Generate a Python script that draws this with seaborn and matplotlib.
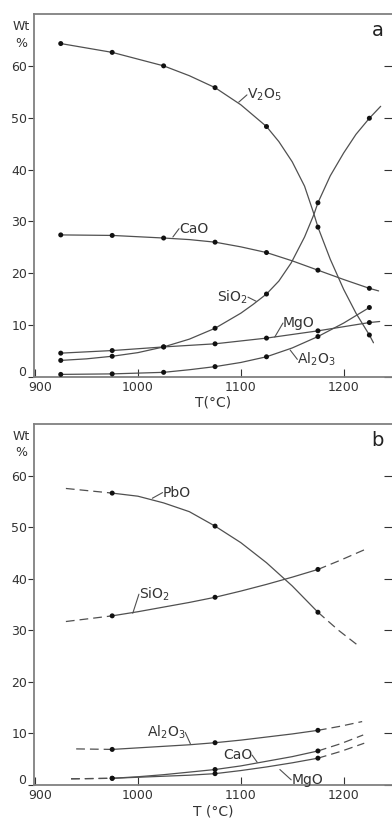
import matplotlib
matplotlib.use("Agg")
import matplotlib.pyplot as plt
import matplotlib.transforms as mtrans
import seaborn as sns

# Panel a - measured points
temps_a = [925, 975, 1025, 1075, 1125, 1175, 1225]
v2o5_a = [64.3, 62.6, 60.0, 55.8, 48.3, 28.9, 8.1]
cao_a = [27.4, 27.3, 26.8, 26.0, 24.0, 20.6, 17.1]
sio2_a = [3.2, 4.0, 5.8, 9.4, 16.0, 33.6, 49.9]
mgo_a = [4.6, 5.1, 5.8, 6.4, 7.5, 8.9, 10.5]
al2o3_a = [0.5, 0.6, 0.9, 2.0, 3.9, 7.8, 13.4]

# Panel a - curves
v2o5_curve_t = [925, 975, 1025, 1050, 1075, 1100, 1125, 1137, 1150, 1162, 1171, 1175,
                1187, 1200, 1212, 1225, 1229]
v2o5_curve = [64.3, 62.6, 60.0, 58.1, 55.8, 52.5, 48.3, 45.4, 41.5, 36.8, 31.5, 28.9,
              22.7, 16.9, 12.3, 8.1, 6.6]
sio2_curve_t = [925, 950, 975, 1000, 1025, 1050, 1075, 1100, 1112, 1125, 1137, 1149,
                1162, 1171, 1175, 1187, 1200, 1212, 1225, 1236]
sio2_curve = [3.2, 3.5, 4.0, 4.7, 5.8, 7.3, 9.4, 12.3, 14.0, 16.0, 18.5, 22.0,
              27.0, 31.3, 33.6, 38.8, 43.2, 46.8, 49.9, 52.2]
cao_curve_t = [925, 975, 1025, 1050, 1075, 1100, 1125, 1150, 1175, 1200, 1225, 1234]
cao_curve = [27.4, 27.3, 26.8, 26.5, 26.0, 25.1, 24.0, 22.4, 20.6, 18.8, 17.1, 16.6]
mgo_curve_t = [925, 975, 1025, 1075, 1125, 1175, 1225, 1235]
mgo_curve = [4.6, 5.1, 5.8, 6.4, 7.5, 8.9, 10.5, 10.7]
al2o3_curve_t = [925, 975, 1025, 1050, 1075, 1100, 1125, 1150, 1175, 1200, 1225]
al2o3_curve = [0.5, 0.6, 0.9, 1.4, 2.0, 2.8, 3.9, 5.6, 7.8, 10.4, 13.4]

# Panel b - measured points
temps_b = [975, 1075, 1175]
pbo_b = [56.6, 50.2, 33.5]
sio2_b = [32.8, 36.4, 41.8]
al2o3_b = [6.9, 8.2, 10.6]
cao_b = [1.3, 3.0, 6.6]
mgo_b = [1.3, 2.2, 5.2]

# Panel b - solid curves traced between the points
curve_t_b = [975, 1000, 1025, 1050, 1075, 1100, 1125, 1150, 1175]
pbo_curve = [56.6, 56.0, 54.7, 53.0, 50.2, 47.0, 43.1, 38.6, 33.5]
sio2_curve_b = [32.8, 33.6, 34.5, 35.4, 36.4, 37.6, 38.9, 40.3, 41.8]
al2o3_curve_b = [6.9, 7.2, 7.5, 7.8, 8.2, 8.7, 9.3, 9.9, 10.6]
cao_curve_b = [1.3, 1.6, 2.0, 2.5, 3.0, 3.7, 4.6, 5.5, 6.6]
mgo_curve_b = [1.3, 1.5, 1.7, 1.9, 2.2, 2.8, 3.5, 4.3, 5.2]

# Panel b - dashed extrapolations (start segment, end segment)
ext_b = {
    "PbO": ([930, 975], [57.5, 56.6], [1175, 1195, 1215], [33.5, 30.0, 26.9]),
    "SiO2": ([930, 975], [31.7, 32.8], [1175, 1197, 1220], [41.8, 43.6, 45.6]),
    "Al2O3": ([940, 975], [7.0, 6.9], [1175, 1197, 1218], [10.6, 11.4, 12.3]),
    "CaO": ([935, 975], [1.2, 1.3], [1175, 1197, 1219], [6.6, 8.0, 9.7]),
    "MgO": ([935, 975], [1.2, 1.3], [1175, 1197, 1220], [5.2, 6.5, 8.1]),
}

sns.set_style("ticks")
plt.rcParams["font.family"] = ["DejaVu Sans"]

line_c = "#505050"
text_c = "#333333"
fig = plt.figure(figsize=(3.92, 8.18), dpi=100)
ax_a = fig.add_axes([34 / 392, 1 - 377 / 818, 358 / 392, 363 / 818])
ax_b = fig.add_axes([34 / 392, 1 - 785 / 818, 358 / 392, 361 / 818])


def curve(ax, x, y, dashed=False):
    ls = (0, (7, 4)) if dashed else "-"
    sns.lineplot(x=x, y=y, ax=ax, color=line_c, linewidth=0.9, linestyle=ls, sort=False)


def dots(ax, x, y):
    sns.scatterplot(x=x, y=y, ax=ax, color="#111111", s=13, edgecolor="none", zorder=5)


def label(ax, txt, xy_line, xy_text, **kw):
    ax.annotate("", xy=xy_line, xytext=xy_text,
                arrowprops=dict(arrowstyle="-", color=line_c, lw=0.8, shrinkA=0, shrinkB=0))
    ax.text(xy_text[0], xy_text[1], txt, fontsize=10, color=text_c, va="center", **kw)


# panel a
curve(ax_a, v2o5_curve_t, v2o5_curve)
curve(ax_a, sio2_curve_t, sio2_curve)
curve(ax_a, cao_curve_t, cao_curve)
curve(ax_a, mgo_curve_t, mgo_curve)
curve(ax_a, al2o3_curve_t, al2o3_curve)
for vals in [v2o5_a, cao_a, sio2_a, mgo_a, al2o3_a]:
    dots(ax_a, temps_a, vals)

label(ax_a, r"V$_2$O$_5$", (1098, 53.0), (1106, 54.4), ha="left")
label(ax_a, "CaO", (1034, 27.0), (1040, 28.6), ha="left")
label(ax_a, r"SiO$_2$", (1115, 14.6), (1107, 15.4), ha="right")
label(ax_a, "MgO", (1133, 7.7), (1141, 10.4), ha="left")
label(ax_a, r"Al$_2$O$_3$", (1148, 5.2), (1155, 3.4), ha="left")

# panel b
curve(ax_b, curve_t_b, pbo_curve)
curve(ax_b, curve_t_b, sio2_curve_b)
curve(ax_b, curve_t_b, al2o3_curve_b)
curve(ax_b, curve_t_b, cao_curve_b)
curve(ax_b, curve_t_b, mgo_curve_b)
for k, (t0, v0, t1, v1) in ext_b.items():
    curve(ax_b, t0, v0, dashed=True)
    curve(ax_b, t1, v1, dashed=True)
for vals in [pbo_b, sio2_b, al2o3_b, cao_b, mgo_b]:
    dots(ax_b, temps_b, vals)

label(ax_b, "PbO", (1014, 55.6), (1024, 56.7), ha="left")
label(ax_b, r"SiO$_2$", (995, 33.3), (1001, 37.0), ha="left")
label(ax_b, r"Al$_2$O$_3$", (1051, 8.0), (1046, 10.2), ha="right")
label(ax_b, "CaO", (1116, 4.4), (1111, 5.8), ha="right")
label(ax_b, "MgO", (1138, 3.0), (1149, 1.0), ha="left")

for ax, letter in [(ax_a, "a"), (ax_b, "b")]:
    ax.set_xlim(899, 1247)
    ax.set_ylim(0, 70)
    ax.set_xticks([900, 1000, 1100, 1200])
    ax.set_yticks([0, 10, 20, 30, 40, 50, 60])
    ax.tick_params(axis="y", left=True, right=True, labelsize=9, colors=text_c, pad=1,
                   direction="out", length=4)
    ax.tick_params(axis="x", direction="in", length=6, labelsize=9, colors=text_c, pad=3)
    for side in ["left", "top", "bottom"]:
        ax.spines[side].set_color("#808080")
        ax.spines[side].set_linewidth(1.3)
    ax.spines["right"].set_visible(False)
    ax.set_ylabel("")
    ax.text(-0.035, 0.965, "Wt", transform=ax.transAxes, fontsize=9, color=text_c,
            ha="center", va="center")
    ax.text(-0.035, 0.92, "%", transform=ax.transAxes, fontsize=9, color=text_c,
            ha="center", va="center")
    ax.text(0.96, 0.955, letter, transform=ax.transAxes, fontsize=14, color="#222222",
            ha="center", va="center")

# right-hand ticks point inward from the edge; nudge the corner labels apart
for ax in [ax_a, ax_b]:
    for t in ax.yaxis.get_major_ticks():
        t.tick2line.set_marker(matplotlib.lines.TICKLEFT)
        t.tick2line.set_markersize(6)
        t.tick2line.set_color("#808080")
    zero = ax.yaxis.get_major_ticks()[0].label1
    zero.set_transform(zero.get_transform()
                       + mtrans.ScaledTranslation(-1 / 100, 6 / 100, fig.dpi_scale_trans))
    nine = ax.xaxis.get_major_ticks()[0].label1
    nine.set_transform(nine.get_transform()
                       + mtrans.ScaledTranslation(5 / 100, 0, fig.dpi_scale_trans))

ax_a.set_xlabel("T(°C)", fontsize=10, color=text_c, labelpad=1)
ax_b.set_xlabel("T (°C)", fontsize=10, color=text_c, labelpad=2)

fig.savefig("out.png", dpi=100)
